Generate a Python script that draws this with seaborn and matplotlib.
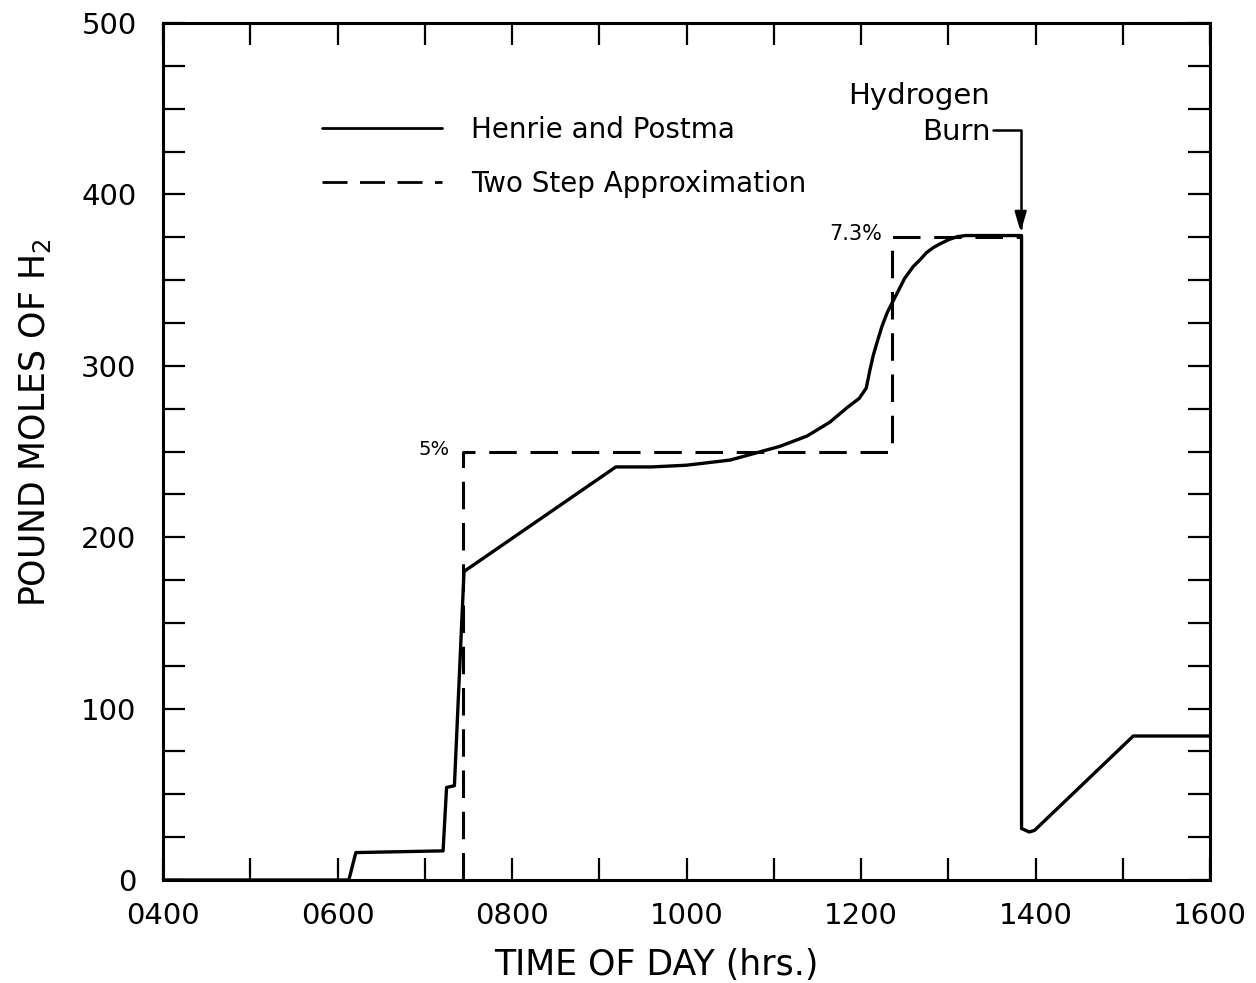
import matplotlib
matplotlib.use("Agg")
import matplotlib.pyplot as plt
import seaborn as sns
import pandas as pd
from matplotlib.ticker import MultipleLocator, FuncFormatter

# ---- data (time in hours of day, pound moles of H2) ----
hp_time = [4.0, 6.13, 6.21, 7.21, 7.25, 7.34, 7.45, 9.19, 9.6, 10.0, 10.5,
           11.07, 11.38, 11.64, 11.85, 11.98, 12.06, 12.10, 12.14, 12.18,
           12.24, 12.30, 12.37, 12.44, 12.5, 12.6, 12.68, 12.75, 12.83, 12.9,
           13.0, 13.1, 13.2, 13.84, 13.84, 13.93, 13.99, 15.12, 16.0]
hp_moles = [0, 0, 16, 17, 54, 55, 180, 241, 241, 242, 245,
            253, 259, 267, 276, 281, 287, 297, 306, 313,
            323, 331, 338, 345, 351, 358, 362, 366, 369, 371,
            373.5, 375.3, 376, 376, 30, 28, 29, 84, 84]

ts_time = [7.44, 7.44, 12.36, 12.36, 13.84]
ts_moles = [0, 250, 250, 375, 375]

x_ticks = [4, 6, 8, 10, 12, 14, 16]
y_ticks = [0, 100, 200, 300, 400, 500]

series_labels = ["Henrie and Postma", "Two Step Approximation"]

hp = pd.DataFrame({"time": hp_time, "moles": hp_moles})
ts = pd.DataFrame({"time": ts_time, "moles": ts_moles})

sns.set_style("ticks")
plt.rcParams["font.family"] = ["DejaVu Sans"]
plt.rcParams.update({"text.color": "black", "axes.labelcolor": "black",
                     "xtick.color": "black", "ytick.color": "black"})

fig = plt.figure(figsize=(12.56, 9.83), dpi=100)
ax = fig.add_axes([163 / 1256, 1 - 880 / 983, 1047 / 1256, 857 / 983])

sns.lineplot(data=hp, x="time", y="moles", sort=False, estimator=None,
             color="black", lw=2.4, ax=ax, label=series_labels[0])
sns.lineplot(data=ts, x="time", y="moles", sort=False, estimator=None,
             color="black", lw=2.2, ax=ax, label=series_labels[1])
ax.lines[1].set_linestyle((0, (9, 4.5)))

ax.set_xlim(4, 16)
ax.set_ylim(0, 500)

ax.xaxis.set_major_locator(MultipleLocator(2))
ax.xaxis.set_minor_locator(MultipleLocator(1))
ax.yaxis.set_major_locator(MultipleLocator(100))
ax.yaxis.set_minor_locator(MultipleLocator(25))
ax.set_xticks(x_ticks)
ax.set_yticks(y_ticks)
ax.xaxis.set_major_formatter(FuncFormatter(lambda v, p: f"{int(round(v * 100)):04d}"))

for s in ax.spines.values():
    s.set_visible(True)
    s.set_linewidth(2.2)
    s.set_color("black")

ax.tick_params(which="both", direction="in", top=True, right=True,
               length=16, width=1.6, color="black")
ax.tick_params(axis="x", which="major", pad=16, labelsize=21, labelcolor="black")
ax.tick_params(axis="y", which="major", pad=19, labelsize=21, labelcolor="black")

ax.set_xlabel("TIME OF DAY (hrs.)", fontsize=25)
ax.set_ylabel(r"POUND MOLES OF H$_\mathregular{2}$", fontsize=25)
ax.xaxis.set_label_coords(0.471, -0.099)
ax.xaxis.label.set_va("center")
ax.yaxis.set_label_coords(-0.122, 0.534)
ax.yaxis.label.set_va("center")

handles, labels = ax.get_legend_handles_labels()
leg = ax.legend(handles, labels, loc="upper left", bbox_to_anchor=(0.152, 0.892),
                frameon=False, fontsize=20, handlelength=4.3, handletextpad=1.05,
                labelspacing=0.95, borderpad=0, borderaxespad=0)
for h in leg.get_lines():
    h.set_linewidth(2.0)

ax.text(7.29, 251, "5%", ha="right", va="center", fontsize=14)
ax.text(12.24, 377, "7.3%", ha="right", va="center", fontsize=15)
ax.text(13.48, 447, "Hydrogen\nBurn", ha="right", va="center", fontsize=21,
        multialignment="right", linespacing=1.35)
ax.annotate("", xy=(13.83, 378), xytext=(13.51, 437.5),
            arrowprops=dict(arrowstyle="-|>,head_length=1.2,head_width=0.35",
                            connectionstyle="angle,angleA=0,angleB=90,rad=0",
                            color="black", lw=1.8, shrinkA=0, shrinkB=0))

fig.savefig("out.png", dpi=100, facecolor="white")
